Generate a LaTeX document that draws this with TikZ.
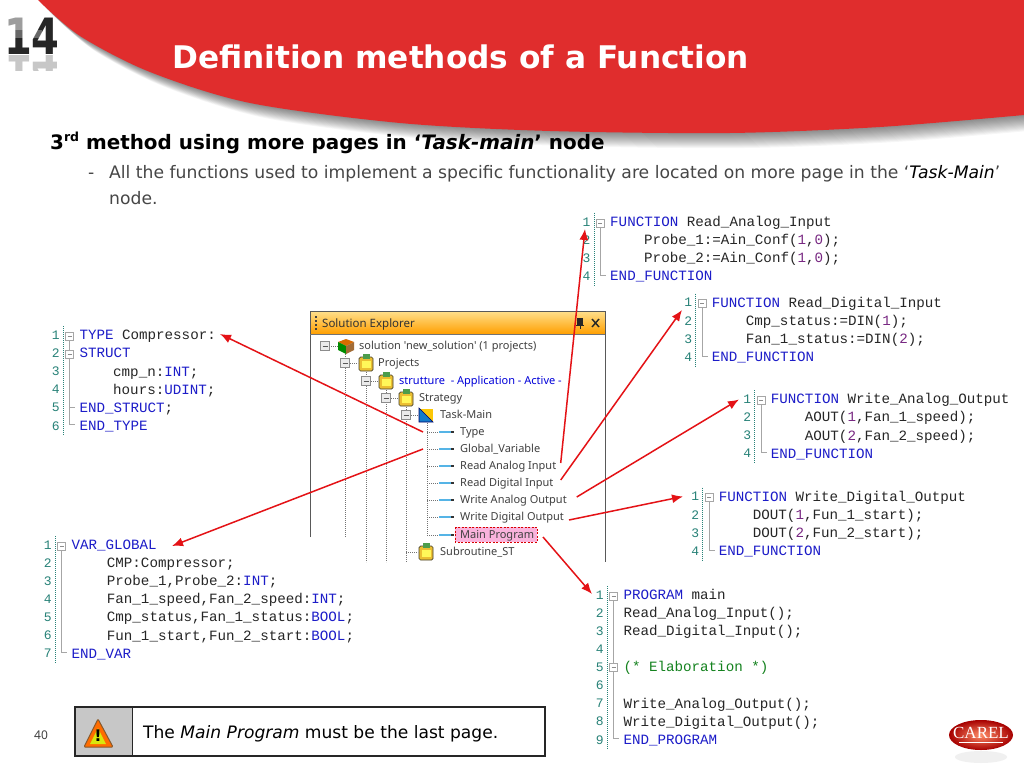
\documentclass[tikz,border=0pt]{standalone}
\usepackage{fontspec}
\setmainfont{DejaVu Sans}
\newfontfamily\codefont{Liberation Mono}
\newfontfamily\treefont{Noto Sans}
\newfontfamily\logofont{Liberation Serif}
\usetikzlibrary{arrows.meta,calc}
\definecolor{hdrred}{RGB}{224,45,45}
\definecolor{arrowred}{RGB}{228,18,22}
\definecolor{kwblue}{RGB}{28,28,200}
\definecolor{numpur}{RGB}{120,40,130}
\definecolor{gutnum}{RGB}{40,130,120}
\definecolor{cmtgreen}{RGB}{20,130,30}
\definecolor{bodygray}{RGB}{70,70,70}
\definecolor{leafblue}{RGB}{85,180,230}
\definecolor{clipyellow}{RGB}{235,190,50}
\newcommand{\kw}[1]{\textcolor{kwblue}{#1}}
\newcommand{\nm}[1]{\textcolor{numpur}{#1}}
\tikzset{
  codetxt/.style={anchor=base west,inner sep=0pt,font=\codefont\fontsize{14.2}{16}\selectfont,text=black!85},
  gutnumtxt/.style={anchor=center,inner sep=0pt,font=\codefont\fontsize{13}{15}\selectfont,text=gutnum},
  treetxt/.style={anchor=base west,inner sep=0pt,font=\treefont\fontsize{11}{13}\selectfont,text=black!75},
  wire/.style={line width=1.5pt,draw=arrowred,-{Latex[length=11pt,width=9pt]}},
  foldline/.style={draw=black!35,line width=.8pt},
  dots/.style={draw=black!55,line width=.6pt,dash pattern=on .8pt off 1.2pt},
  titletxt/.style={anchor=base west,inner sep=0pt,text=white,font=\bfseries\fontsize{31.2}{36}\selectfont},
  bodytxt/.style={anchor=base west,inner sep=0pt,text=bodygray,font=\fontsize{17.2}{20}\selectfont},
}
% #1 prefix, #2 keyword x, #3 first y, #4 line count
\newcommand{\gutter}[4]{%
  \draw[draw=gutnum,line width=.8pt,dash pattern=on 1pt off 1pt] (#2-16,#3-9) -- (#2-16,{#3+(#4-1)*18.1+9});
  \foreach \i in {1,...,#4}{\node[gutnumtxt] (#1-n\i) at (#2-23.5,{#3+(\i-1)*18.1}) {\i};}
  \draw[foldline] (#2-9.7,#3+5) -- (#2-9.7,{#3+(#4-1)*18.1-1}) -- (#2-4,{#3+(#4-1)*18.1-1});
  \foldbox{#2-9.7}{#3+1}%
}
\newcommand{\foldbox}[2]{%
  \draw[draw=black!35,fill=white,line width=.6pt] ({#1-4},{#2-4}) rectangle ({#1+4},{#2+4});
  \draw[draw=black!45,line width=.6pt] ({#1-2},{#2}) -- ({#1+2},{#2});
}
\newcommand{\cl}[4]{\node[codetxt] (#1) at (#2,#3+4.5) {#4};}
\newcommand{\tr}[4][]{\node[treetxt,#1] (#2) at (#3,#4+3.8) }
\newcommand{\expbox}[2]{%
  \draw[draw=black!45,fill=black!8,line width=.6pt] ({#1-4.5},{#2-4.5}) rectangle ({#1+4.5},{#2+4.5});
  \draw[draw=black!65,line width=.8pt] ({#1-2.5},{#2}) -- ({#1+2.5},{#2});
}
\newcommand{\clipicon}[2]{%
  \draw[draw=black!70!olive,fill=clipyellow,rounded corners=1.5pt,line width=.7pt] ({#1-7},{#2-6}) rectangle ({#1+7},{#2+8});
  \fill[green!45!black!70] ({#1-3.5},{#2-9}) rectangle ({#1+3.5},{#2-4});
  \fill[yellow!65!white] ({#1-4.5},{#2-2}) rectangle ({#1+4.5},{#2+5});
}
\newcommand{\leafmark}[1]{%
  \draw[dots] (427,#1) -- (439,#1);
  \draw[draw=leafblue,line width=1.4pt] (439,#1) -- (451,#1);
  \fill[black!80] (451,#1-1) rectangle (454,#1+1);
}
\newcommand{\hdrshape}{plot[smooth] coordinates {(38,0) (80,36) (150,72) (250,103) (400,123) (550,131) (730,133) (880,127) (1024,115)} -- (1024,0) -- cycle}
\begin{document}
\begin{tikzpicture}[x=1pt,y=-1pt]
\useasboundingbox (0,0) rectangle (1024,767);
\fill[white] (0,0) rectangle (1024,767);
% header
\begin{scope}
\clip (0,0) rectangle (1024,767);
\foreach \i in {1,...,15}{\fill[black,opacity=.035,shift={(\i,\i)}] \hdrshape;}
\fill[hdrred] \hdrshape;
\end{scope}
\node[titletxt] (title) at (172,69) {Definition methods of a Function};
% chapter number
\node[anchor=base west,inner sep=0pt,text=black!85,xscale=.8,font=\bfseries\fontsize{50}{50}\selectfont] (chap) at (4,55) {14};
\fill[white,opacity=.55] (0,15) rectangle (38,30);
\fill[white,opacity=.3] (0,30) rectangle (42,38);
\begin{scope}
\clip (0,56) rectangle (62,71);
\node[anchor=base west,inner sep=0pt,text=black!22,xscale=.8,yscale=-1,font=\bfseries\fontsize{50}{50}\selectfont] (chaprefl) at (4,56) {14};
\end{scope}
% headings
\node[anchor=base west,inner sep=0pt,text=black,font=\bfseries\fontsize{19.9}{23}\selectfont] (head) at (50,150)
  {3\raisebox{.42em}{\fontsize{12.5}{14}\selectfont rd} method using more pages in ‘\textit{Task-main}’ node};
\node[bodytxt] (dash) at (88,179) {-};
\node[bodytxt] (body1) at (109,179) {All the functions used to implement a specific functionality are located on more page in the ‘\textcolor{black}{\textit{Task-Main}}’};
\node[bodytxt] (body2) at (109,205) {node.};
% Solution Explorer
\shade[top color=yellow!45!orange!45,bottom color=orange!75!yellow] (310,311) rectangle (605,334);
\draw[draw=black!65,line width=1pt] (310,537) -- (310,311) -- (605,311) -- (605,562);
\draw[draw=black!55,line width=.8pt] (310,334) -- (605,334);
\foreach \yy in {316,320,324,328}{\fill[black!75] (315,\yy) rectangle (316.5,\yy+2);}
\node[anchor=base west,inner sep=0pt,text=black!80,font=\treefont\fontsize{11.5}{14}\selectfont] (sehead) at (322,327) {Solution Explorer};
\fill[black!85] (577,318) rectangle (583,325);
\draw[black!85,line width=1pt] (576,325) -- (584,325) (580,325) -- (580,329);
\draw[black!85,line width=1.4pt] (592,319) -- (599,327) (599,319) -- (592,327);
% tree lines
\draw[dots] (345,352) -- (345,537);
\draw[dots] (366,370) -- (366,562);
\draw[dots] (386,388) -- (386,562);
\draw[dots] (406,405) -- (406,562);
\draw[dots] (427,423) -- (427,535);
\draw[dots] (329,346) -- (338,346) (350,363) -- (358,363) (371,381) -- (378,381) (391,398) -- (398,398) (411,415) -- (418,415) (406,552) -- (418,552);
\expbox{325}{346}\expbox{345}{363}\expbox{366}{381}\expbox{386}{398}\expbox{406}{415}
% solution cube
\fill[orange!85!black] (346,339) -- (354,342) -- (346,346) -- (338,342) -- cycle;
\fill[green!55!black] (338,342) -- (346,346) -- (346,354) -- (338,350) -- cycle;
\fill[brown!85!black] (354,342) -- (346,346) -- (346,354) -- (354,350) -- cycle;
\clipicon{366}{363}\clipicon{386}{381}\clipicon{406}{398}\clipicon{426}{552}
% task-main icon
\fill[yellow!60!orange] (419,409) rectangle (433,422);
\fill[cyan!60!blue] (419,422) -- (419,408) -- (433,422) -- cycle;
\draw[black!60!blue,line width=.6pt] (419,408) -- (433,422) -- (419,422) -- cycle;
% tree labels
\tr{tSol}{359}{346} {solution 'new\_solution' (1 projects)};
\tr{tProj}{378}{363} {Projects};
\tr[text=blue!85!black]{tStr}{399}{381} {strutture~ - Application - Active -};
\tr{tStrat}{419}{398} {Strategy};
\tr{tTask}{440}{415} {Task-Main};
\foreach \yy in {432,449,466,483,500,517,535}{\leafmark{\yy}}
\tr{tType}{460}{432} {Type};
\tr{tGlob}{460}{449} {Global\_Variable};
\tr{tRA}{460}{466} {Read Analog Input};
\tr{tRD}{460}{483} {Read Digital Input};
\tr{tWA}{460}{500} {Write Analog Output};
\tr{tWD}{460}{517} {Write Digital Output};
\draw[draw=red!85!black,fill=magenta!30,line width=.8pt,dash pattern=on 2pt off 1.5pt] (455,527) rectangle (537,542);
\tr{tMain}{460}{535} {Main Program};
\tr{tSub}{440}{552} {Subroutine\_ST};
% code: TYPE
\gutter{ty}{79.3}{335.3}{6}
\foldbox{69.6}{354}
\draw[foldline] (69.6,407.8) -- (75,407.8);
\cl{ty1}{79.3}{335.3}{\kw{TYPE} Compressor:}
\cl{ty2}{79.3}{353.4}{\kw{STRUCT}}
\cl{ty3}{113}{371.5}{cmp\_n:\kw{INT};}
\cl{ty4}{113}{389.6}{hours:\kw{UDINT};}
\cl{ty5}{79.3}{407.7}{\kw{END\_STRUCT};}
\cl{ty6}{79.3}{425.8}{\kw{END\_TYPE}}
% code: VAR_GLOBAL
\gutter{vg}{71.3}{545}{7}
\cl{vg1}{71.3}{545}{\kw{VAR\_GLOBAL}}
\cl{vg2}{106.7}{563.1}{CMP:Compressor;}
\cl{vg3}{106.7}{581.2}{Probe\_1,Probe\_2:\kw{INT};}
\cl{vg4}{106.7}{599.3}{Fan\_1\_speed,Fan\_2\_speed:\kw{INT};}
\cl{vg5}{106.7}{617.4}{Cmp\_status,Fan\_1\_status:\kw{BOOL};}
\cl{vg6}{106.7}{635.5}{Fun\_1\_start,Fun\_2\_start:\kw{BOOL};}
\cl{vg7}{71.3}{653.6}{\kw{END\_VAR}}
% code: Read_Analog_Input
\gutter{ra}{610}{222}{4}
\cl{ra1}{610}{222}{\kw{FUNCTION} Read\_Analog\_Input}
\cl{ra2}{644}{240.1}{Probe\_1:=Ain\_Conf(\nm{1},\nm{0});}
\cl{ra3}{644}{258.2}{Probe\_2:=Ain\_Conf(\nm{1},\nm{0});}
\cl{ra4}{610}{276.3}{\kw{END\_FUNCTION}}
% code: Read_Digital_Input
\gutter{rd}{711.7}{302.7}{4}
\cl{rd1}{711.7}{302.7}{\kw{FUNCTION} Read\_Digital\_Input}
\cl{rd2}{745.7}{320.8}{Cmp\_status:=DIN(\nm{1});}
\cl{rd3}{745.7}{338.9}{Fan\_1\_status:=DIN(\nm{2});}
\cl{rd4}{711.7}{357}{\kw{END\_FUNCTION}}
% code: Write_Analog_Output
\gutter{wa}{770.7}{399.3}{4}
\cl{wa1}{770.7}{399.3}{\kw{FUNCTION} Write\_Analog\_Output}
\cl{wa2}{804.7}{417.4}{AOUT(\nm{1},Fan\_1\_speed);}
\cl{wa3}{804.7}{435.5}{AOUT(\nm{2},Fan\_2\_speed);}
\cl{wa4}{770.7}{453.6}{\kw{END\_FUNCTION}}
% code: Write_Digital_Output
\gutter{wd}{718.7}{496.7}{4}
\cl{wd1}{718.7}{496.7}{\kw{FUNCTION} Write\_Digital\_Output}
\cl{wd2}{752.7}{514.8}{DOUT(\nm{1},Fun\_1\_start);}
\cl{wd3}{752.7}{532.9}{DOUT(\nm{2},Fun\_2\_start);}
\cl{wd4}{718.7}{551}{\kw{END\_FUNCTION}}
% code: PROGRAM main
\gutter{pm}{623.3}{595}{9}
\foldbox{613.6}{667.5}
\cl{pm1}{623.3}{595}{\kw{PROGRAM} main}
\cl{pm2}{623.3}{613.1}{Read\_Analog\_Input();}
\cl{pm3}{623.3}{631.2}{Read\_Digital\_Input();}
\cl{pm5}{623.3}{667.4}{\textcolor{cmtgreen}{(* Elaboration *)}}
\cl{pm7}{623.3}{703.6}{Write\_Analog\_Output();}
\cl{pm8}{623.3}{721.7}{Write\_Digital\_Output();}
\cl{pm9}{623.3}{739.8}{\kw{END\_PROGRAM}}
% connectors
\coordinate (s1) at (423,432); \coordinate (e1) at (220,334);
\coordinate (s2) at (423,449); \coordinate (e2) at (172,546);
\coordinate (s3) at (560.7,463); \coordinate (e3) at (585,229);
\coordinate (s4) at (560.7,480); \coordinate (e4) at (682,310);
\coordinate (s5) at (576.7,497); \coordinate (e5) at (739,399.5);
\coordinate (s6) at (569,520); \coordinate (e6) at (683,496.5);
\coordinate (s7) at (543,537); \coordinate (e7) at (592,594);
\draw[wire] (s1) -- (e1);
\draw[wire] (s2) -- (e2);
\draw[wire] (s3) -- (e3);
\draw[wire] (s4) -- (e4);
\draw[wire] (s5) -- (e5);
\draw[wire] (s6) -- (e6);
\draw[wire] (s7) -- (e7);
% note box
\fill[black!22] (75,707) rectangle (132,756);
\draw[draw=black!85,line width=1.3pt] (75,707) rectangle (545,756);
\draw[draw=black!85,line width=1pt] (132,707) -- (132,756);
\draw[draw=brown!70!black,fill=orange!85!red,line width=1pt,rounded corners=1pt,line join=round] (98,719) -- (113,747) -- (84,747) -- cycle;
\fill[yellow!85!green] (98,728) -- (106,744) -- (90,744) -- cycle;
\node[anchor=center,inner sep=0pt,text=black,font=\bfseries\fontsize{16}{16}\selectfont] (warn) at (98,736) {!};
\node[anchor=base west,inner sep=0pt,text=black,font=\fontsize{17.1}{20}\selectfont] (note) at (143,738) {The \textit{Main Program} must be the last page.};
\node[anchor=center,inner sep=0pt,text=black!75,font=\treefont\fontsize{12}{14}\selectfont] (pageno) at (41,735) {40};
% logo
\fill[black!6] (981,757) ellipse [x radius=26,y radius=6];
\shade[inner color=red!50!orange!60!white,outer color=red!65!black] (981,735) ellipse [x radius=32,y radius=15];
\node[anchor=center,inner sep=0pt,text=white,font=\logofont\fontsize{17}{18}\selectfont] (logo) at (981,733) {CAREL};
\draw[white,line width=.7pt] (959,742.5) -- (1003,742.5);
\end{tikzpicture}
\end{document}
